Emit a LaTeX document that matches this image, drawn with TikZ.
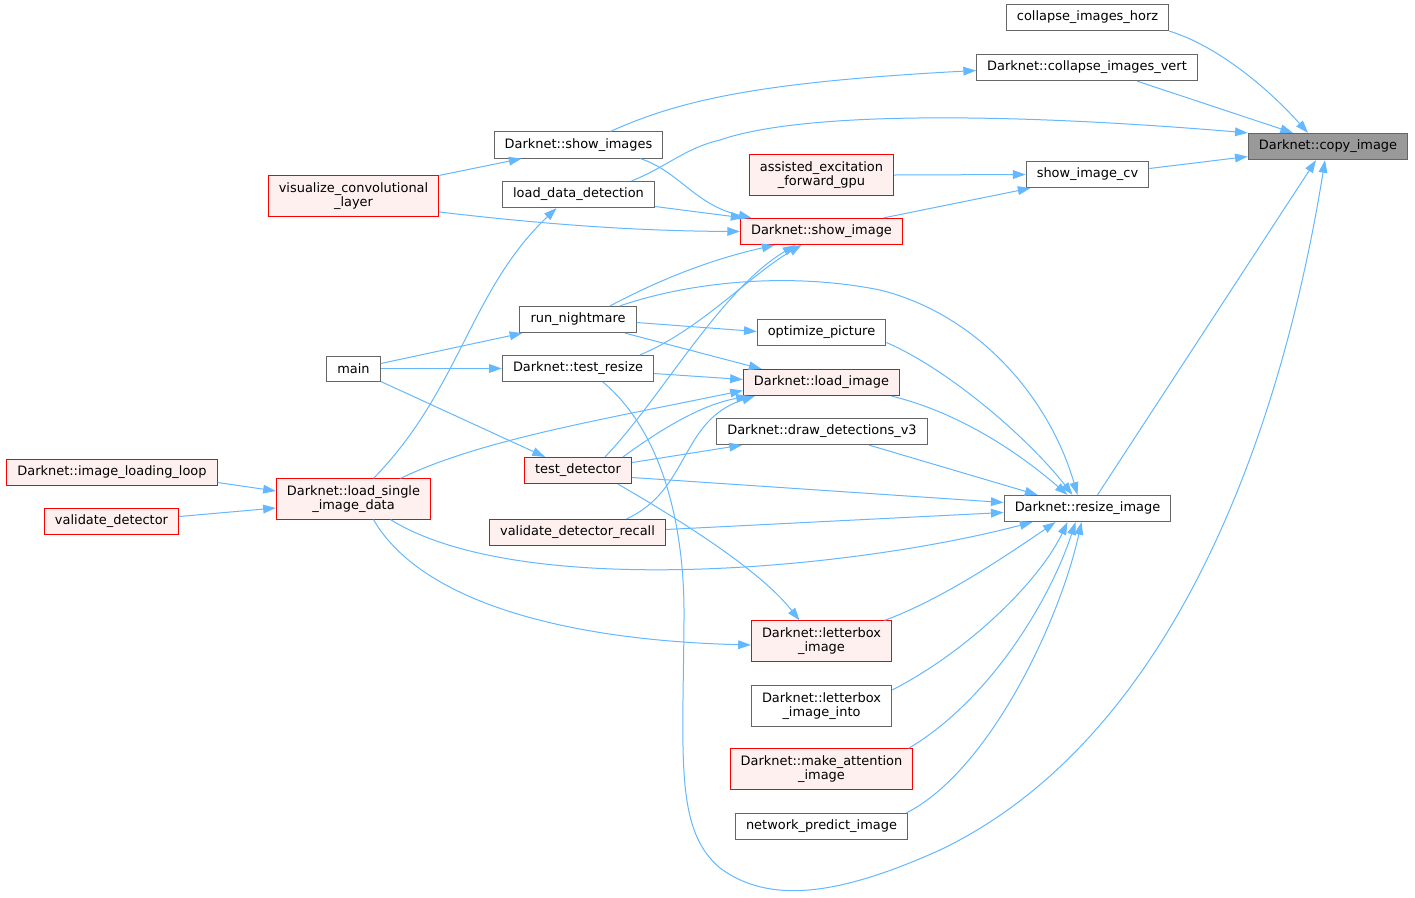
\documentclass[tikz,border=0pt]{standalone}
\usepackage{fontspec}
\setmainfont{DejaVu Sans}
\usetikzlibrary{arrows.meta,calc}

\definecolor{edgeblue}{HTML}{63B8FF}
\definecolor{boxgray}{HTML}{666666}
\definecolor{curgray}{HTML}{999999}
\definecolor{redfill}{HTML}{FFF0F0}

\begin{document}
\begin{tikzpicture}[x=0.75pt, y=-0.75pt,
    every node/.style={font=\fontsize{9.7}{10.5}\selectfont, align=center, inner xsep=8pt, inner ysep=5pt, minimum height=18.75pt},
    fn/.style={draw=boxgray, fill=white, line width=0.75pt},
    fnred/.style={draw=red, fill=redfill, line width=0.75pt},
    fncur/.style={draw=boxgray, fill=curgray, line width=0.75pt},
    call/.style={color=edgeblue, line width=0.75pt, -{Triangle[length=9.5pt,width=6.5pt]}}]

    \fill [white] (0,0) rectangle (1415,897);
    \useasboundingbox (0,0) rectangle (1415,897);

    \node [fncur] (cpy) at (1328,146.5) {Darknet::copy\_image};
    \node [fn] (horz) at (1087.5,17.5) {collapse\_images\_horz};
    \node [fn] (vert) at (1087,67.5) {Darknet::collapse\_images\_vert};
    \node [fn] (cv) at (1087.5,174.5) {show\_image\_cv};
    \node [fnred] (aefg) at (821.5,175) {assisted\_excitation\\\_forward\_gpu};
    \node [fn] (shows) at (578.5,145) {Darknet::show\_images};
    \node [fn] (ldd) at (578.5,194.5) {load\_data\_detection};
    \node [fnred] (shw) at (821.5,231.5) {Darknet::show\_image};
    \node [fnred] (viz) at (353.5,196) {visualize\_convolutional\\\_layer};
    \node [fn] (nightmare) at (578,319.5) {run\_nightmare};
    \node [fn] (optpic) at (821.5,332.5) {optimize\_picture};
    \node [fn] (main) at (353.5,368.5) {main};
    \node [fn] (tres) at (578,368.5) {Darknet::test\_resize};
    \node [fnred] (limg) at (821.5,382.5) {Darknet::load\_image};
    \node [fn] (dd3) at (822,431.5) {Darknet::draw\_detections\_v3};
    \node [fnred] (tdet) at (578,470.5) {test\_detector};
    \node [fnred] (loop) at (112,472.5) {Darknet::image\_loading\_loop};
    \node [fnred] (lsid) at (353.5,499) {Darknet::load\_single\\\_image\_data};
    \node [fnred] (valdet) at (111.5,521.5) {validate\_detector};
    \node [fnred] (vdr) at (577.5,532.5) {validate\_detector\_recall};
    \node [fn] (rsz) at (1087.5,508.5) {Darknet::resize\_image};
    \node [fnred] (lbox) at (821.5,641) {Darknet::letterbox\\\_image};
    \node [fn] (lboxi) at (821.5,706) {Darknet::letterbox\\\_image\_into};
    \node [fnred] (mai) at (821.5,769) {Darknet::make\_attention\\\_image};
    \node [fn] (npi) at (821.5,826.5) {network\_predict\_image};

    % into copy_image
    \draw [call] (horz.south east) .. controls (1215,45) and (1265,85) .. ($(cpy.north)+(-20,0)$);
    \path [call] ($(vert.south)+(50,0)$) edge ($(cpy.north)+(-35,0)$);
    \draw [call] ($(ldd.north)+(53,0)$) .. controls (665,168) and (685,148) .. (720,140) .. controls (800,112) and (1000,112) .. (cpy.north west);
    \path [call] ($(cv.east)+(0,-6)$) edge ($(cpy.west)+(0,10)$);
    \path [call] ($(rsz.north)+(10,0)$) edge ($(cpy.south)+(-12,0)$);
    \draw [call] ($(tres.south)+(25,0)$) .. controls (660,430) and (685,520) .. (684,620) .. controls (683,760) and (675,830) .. (720,868) .. controls (770,905) and (840,895) .. (940,850) .. controls (1170,740) and (1280,440) .. ($(cpy.south)+(-3,0)$);

    % show_image_cv, collapse_images_vert, show_images
    \path [call] (aefg.east) edge (cv.west);
    \path [call] ($(shw.north)+(62,0)$) edge ($(cv.south)+(-57,0)$);
    \draw [call] ($(shows.north)+(32,0)$) .. controls (680,100) and (760,82) .. ($(vert.west)+(0,3)$);
    \path [call] (viz.north east) edge ($(shows.south)+(-57,0)$);

    % into show_image
    \draw [call] ($(shows.south)+(62,0)$) .. controls (680,172) and (695,205) .. ($(shw.north)+(-70,0)$);
    \path [call] ($(ldd.east)+(0,12)$) edge ($(shw.north)+(-78,0)$);
    \draw [call] ($(viz.east)+(0,16)$) .. controls (550,225) and (640,231) .. (shw.west);
    \draw [call] ($(nightmare.north)+(32,0)$) .. controls (650,285) and (700,262) .. ($(shw.south)+(-47,0)$);
    \draw [call] ($(tres.north)+(62,0)$) .. controls (700,330) and (750,275) .. ($(shw.south)+(-20,0)$);
    \draw [call] ($(tdet.north)+(27,0)$) .. controls (660,400) and (720,290) .. ($(shw.south)+(-26,0)$);

    \draw [call] ($(lsid.north)+(20,0)$) .. controls (460,390) and (470,290) .. ($(ldd.south)+(-22,0)$);

    % main, run_nightmare
    \path [call] ($(main.east)+(0,-5)$) edge ($(nightmare.south west)+(3,0)$);
    \path [call] (main.east) edge (tres.west);
    \path [call] (main.south east) edge ($(tdet.north)+(-33,0)$);
    \path [call] ($(nightmare.east)+(0,3)$) edge ($(optpic.west)+(0,-1)$);
    \path [call] ($(nightmare.south)+(47,0)$) edge ($(limg.north)+(-60,0)$);
    \draw [call] ($(nightmare.north)+(42,0)$) .. controls (680,285) and (780,270) .. (880,290) .. controls (980,315) and (1050,400) .. ($(rsz.north)+(-10,0)$);

    % into load_image
    \path [call] ($(tres.east)+(0,5)$) edge ($(limg.west)+(0,-3)$);
    \draw [call] ($(lsid.north)+(47,0)$) .. controls (480,440) and (600,420) .. ($(limg.west)+(0,8)$);
    \draw [call] ($(tdet.north)+(45,0)$) .. controls (660,430) and (700,405) .. ($(limg.south west)+(6,0)$);
    \draw [call] ($(vdr.north)+(49,0)$) .. controls (690,490) and (680,420) .. ($(limg.south west)+(12,0)$);
    \path [call] ($(tdet.east)+(0,-8)$) edge ($(dd3.south)+(-80,0)$);

    % into resize_image
    \draw [call] ($(optpic.east)+(0,10)$) .. controls (950,370) and (1030,440) .. ($(rsz.north)+(-15,0)$);
    \draw [call] ($(limg.south)+(70,0)$) .. controls (950,410) and (1010,445) .. ($(rsz.north)+(-20,0)$);
    \path [call] ($(dd3.south)+(47,0)$) edge ($(rsz.north)+(-50,0)$);
    \path [call] ($(tdet.east)+(0,7)$) edge ($(rsz.west)+(0,-6)$);
    \path [call] ($(vdr.east)+(0,-3)$) edge ($(rsz.west)+(0,4)$);
    \draw [call] ($(lsid.south)+(37,0)$) .. controls (520,600) and (850,570) .. ($(rsz.south)+(-55,0)$);
    \draw [call] ($(lbox.north)+(63,0)$) .. controls (940,600) and (1000,560) .. ($(rsz.south)+(-32,0)$);
    \draw [call] ($(lboxi.east)+(0,-16)$) .. controls (970,650) and (1040,580) .. ($(rsz.south)+(-20,0)$);
    \draw [call] ($(mai.north)+(87,0)$) .. controls (990,700) and (1050,600) .. ($(rsz.south)+(-12,0)$);
    \draw [call] ($(npi.north)+(85,0)$) .. controls (990,770) and (1060,620) .. ($(rsz.south)+(-6,0)$);

    % load_single_image_data, letterbox_image
    \path [call] ($(loop.east)+(0,10)$) edge ($(lsid.west)+(0,-8)$);
    \path [call] ($(valdet.east)+(0,-5)$) edge ($(lsid.west)+(0,9)$);
    \draw [call] ($(lsid.south)+(20,0)$) .. controls (420,600) and (560,640) .. ($(lbox.west)+(0,4)$);
    \draw [call] ($(tdet.south)+(40,0)$) .. controls (680,520) and (760,570) .. ($(lbox.north)+(-22,0)$);
\end{tikzpicture}
\end{document}
